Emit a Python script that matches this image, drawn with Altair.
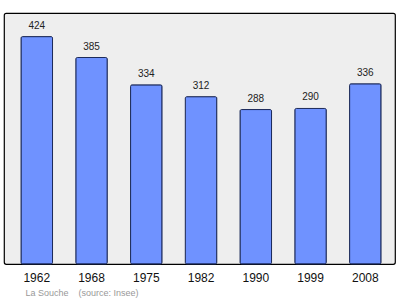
import altair as alt
import pandas as pd

years = ["1962", "1968", "1975", "1982", "1990", "1999", "2008"]
population = [424, 385, 334, 312, 288, 290, 336]

df = pd.DataFrame({"year": years, "pop": population})

x = alt.X(
    "year:N",
    sort=years,
    scale=alt.Scale(paddingInner=0.425, paddingOuter=0.283, align=0.55),
    axis=alt.Axis(
        title="La Souche\u00a0\u00a0\u00a0\u00a0(source: Insee)",
        titleFont="Liberation Sans",
        titleFontSize=9,
        titleFontWeight="normal",
        titleColor="#999999",
        titleAnchor="start",
        titleAlign="left",
        titleX=21,
        titleY=28,
        titleBaseline="middle",
        labelFont="Liberation Sans",
        labelFontSize=12,
        labelColor="#111111",
        labelAngle=0,
        labelPadding=8,
        ticks=False,
        domain=False,
    ),
)
y = alt.Y("pop:Q", scale=alt.Scale(domain=[0, 468], nice=False), axis=None)

bars = alt.Chart(df).mark_bar(
    color="#6f92ff", stroke="#1c2a5a", strokeWidth=1, cornerRadius=1.5
).encode(x=x, y=y)

labels = alt.Chart(df).mark_text(
    font="Liberation Sans", fontSize=10, color="#222222", baseline="alphabetic", dy=-8
).encode(x=x, y=y, text="pop:Q")

chart = (
    alt.layer(bars, labels)
    .properties(
        width=391,
        height=251,
        autosize=alt.AutoSizeParams(type="none"),
        padding={"left": 4, "top": 13, "right": 5, "bottom": 35},
        background="white",
    )
    .configure_view(fill="#eeeeee", stroke="#000000", strokeWidth=1.2, cornerRadius=2)
)

chart.save("out.html", embed_options={"renderer": "svg", "actions": False})
